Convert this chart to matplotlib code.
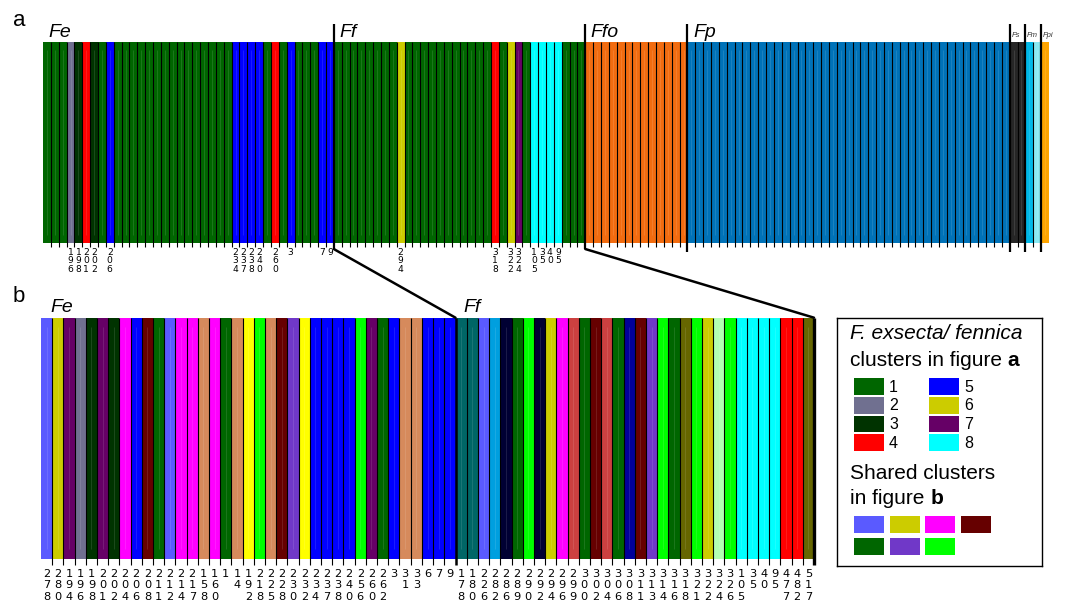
import numpy as np
import matplotlib.pyplot as plt
from matplotlib.patches import ConnectionPatch, Rectangle

# sample ids (F. exsecta = Fe, F. fennica = Ff), left to right
fe_ids = [278, 280, 194, 196, 198, 201, 202, 204, 206, 208, 211, 212, 214, 217,
          158, 160, 1, 14, 192, 218, 225, 228, 230, 232, 234, 237, 238, 240,
          256, 260, 262, 3, 31, 33, 6, 7, 9]
ff_ids = [178, 180, 226, 282, 286, 289, 290, 292, 294, 296, 299, 300, 302, 304,
          306, 308, 311, 313, 314, 316, 318, 321, 322, 324, 326, 105, 35, 40,
          95, 477, 482, 517]

# figure a: cluster of each Fe / Ff sample
fe_clusters = [1, 1, 1, 2, 3, 4, 3, 1, 5,
               1, 1, 1, 1, 1, 1, 1, 1, 1, 1, 1, 1, 1, 1, 1,
               5, 5, 5, 5, 1, 4, 1, 5, 1, 1, 1, 5, 5]
ff_clusters = [1, 1, 1, 1, 1, 1, 1, 1, 6,
               1, 1, 1, 1, 1, 1, 1, 1, 1, 1, 1,
               4, 1, 6, 7, 1, 8, 8, 8, 8, 1, 1, 1]

# figure a: the other species, one colour block each
other_groups = ['Ffo', 'Fp', 'Fs', 'Fm', 'Fpi']
other_sizes = [13, 41, 2, 2, 1]
other_colors = [['#f26c10'], ['#0072b8'], ['#262626'], ['#00b8e8', '#8ae9f2'], ['#ffa500']]

# figure b: clusters of the Fe / Ff samples only
fe_clusters_b = ['S1', 'S2', 'purple', 'grey', 'dkgreen', 'purple', 'dkgreen', 'S3', 'blue',
                 'S4', 'S5', 'S1', 'S3', 'S3', 'tan', 'S3', 'S5', 'tan', 'yellow', 'S7',
                 'tan', 'S4', 'S6', 'yellow', 'blue', 'blue', 'blue', 'blue', 'S7',
                 'purple', 'S5', 'blue', 'tan', 'tan', 'blue', 'blue', 'blue']
ff_clusters_b = ['teal', 'teal', 'S1', 'sky', 'navy', 'S5', 'S7', 'navy', 'S2', 'S3',
                 'rose', 'S5', 'S4', 'rose', 'S5', 'dkblue', 'S4', 'S6', 'S7', 'S5',
                 'olive', 'S7', 'S2', 'pale', 'S7', 'cyan', 'cyan', 'cyan', 'cyan',
                 'red', 'red', 'olive']

cluster_colors = {1: '#006600', 2: '#707090', 3: '#003300', 4: '#ff0000',
                  5: '#0000ff', 6: '#cccc00', 7: '#660066', 8: '#00ffff'}
palette_b = {'S1': '#5a5aff', 'S2': '#cccc00', 'S3': '#ff00ff', 'S4': '#660000',
             'S5': '#006600', 'S6': '#7038c8', 'S7': '#00ff00',
             'blue': '#0000ff', 'purple': '#660066', 'grey': '#707090',
             'dkgreen': '#003300', 'tan': '#d68a5c', 'yellow': '#ffff00',
             'teal': '#006666', 'sky': '#009fdf', 'navy': '#000033', 'rose': '#cc4040',
             'dkblue': '#000099', 'olive': '#666600', 'pale': '#b3ffb3',
             'cyan': '#00ffff', 'red': '#ff0000'}
shared_keys = ['S1', 'S2', 'S3', 'S4', 'S5', 'S6', 'S7']

W, H = 1067, 609
fig = plt.figure(figsize=(W / 100, H / 100), dpi=100)
plt.rcParams['font.family'] = ['Liberation Sans', 'DejaVu Sans']


def px_axes(x0, y0, x1, y1):
    return fig.add_axes([x0 / W, 1 - y1 / H, (x1 - x0) / W, (y1 - y0) / H])


def stack_label(ax, x, text, size, first, step):
    # digits written one under the other below the bar
    for j, ch in enumerate(text):
        ax.annotate(ch, xy=(x, 0), xycoords=('data', 'axes fraction'),
                    xytext=(0, -(first + j * step) * 0.72), textcoords='offset points',
                    ha='center', va='baseline', fontsize=size, family='DejaVu Sans')


def gloss(ax, n):
    ax.vlines(np.arange(n) + 0.5, 0.04, 0.96, colors='white', alpha=0.13, lw=0.6)


# ---------------- panel a ----------------
ids_ab = fe_ids + ff_ids
colors_a = [cluster_colors[c] for c in fe_clusters + ff_clusters]
for size, cols in zip(other_sizes, other_colors):
    for k in range(size):
        colors_a.append(cols[min(k, len(cols) - 1)])
group_names = ['Fe', 'Ff'] + other_groups
group_sizes = [len(fe_ids), len(ff_ids)] + other_sizes
n_a = len(colors_a)
starts = np.concatenate([[0], np.cumsum(group_sizes)[:-1]])

ax_a = px_axes(43, 41.7, 1049, 243)
ax_a.bar(np.arange(n_a), 1, width=1, align='edge', color=colors_a, linewidth=0)
gloss(ax_a, n_a)
ax_a.set_xlim(0, n_a)
ax_a.set_ylim(0, 1)
ax_a.axis('off')
inner = [x for x in range(1, n_a) if x not in starts]
ax_a.vlines(inner, -0.019, 1, colors='black', lw=0.8, clip_on=False)
for name, s in zip(group_names, starts):
    small = name in ('Fs', 'Fm', 'Fpi')
    if s > 0:
        bottom = -0.03 if name in ('Ff', 'Ffo') else -0.045
        ax_a.vlines(s, bottom, 1.088, colors='black', lw=1.6, clip_on=False)
    ax_a.annotate(name, xy=(s, 1), xycoords='data',
                  xytext=((1.8 if small else 5.5) * 0.72, 4.4 * 0.72),
                  textcoords='offset points', va='baseline', ha='left',
                  fontsize=5.5 if small else 14, style='italic',
                  color='#333333' if small else 'black')
for i, c in enumerate(fe_clusters + ff_clusters):
    if c != 1:
        stack_label(ax_a, i + 0.5, str(ids_ab[i]), 6.6, 12, 8.3)

# ---------------- panel b ----------------
colors_b = [palette_b[k] for k in fe_clusters_b + ff_clusters_b]
n_b = len(colors_b)
n_fe = len(fe_ids)
ax_b = px_axes(41, 317.7, 814, 559)
ax_b.bar(np.arange(n_b), 1, width=1, align='edge', color=colors_b, linewidth=0)
gloss(ax_b, n_b)
ax_b.set_xlim(0, n_b)
ax_b.set_ylim(0, 1)
ax_b.axis('off')
ax_b.vlines([x for x in range(1, n_b) if x != n_fe], -0.025, 1,
            colors='black', lw=0.8, clip_on=False)
ax_b.vlines(n_fe, -0.025, 1, colors='black', lw=1.8, clip_on=False)
ax_b.vlines(n_b, -0.025, 1, colors='black', lw=2.4, clip_on=False)
for name, s in [('Fe', 0), ('Ff', n_fe)]:
    ax_b.annotate(name, xy=(s, 1), xycoords='data',
                  xytext=((9.7 if s == 0 else 7.6) * 0.72, 5.4 * 0.72),
                  textcoords='offset points', va='baseline', ha='left',
                  fontsize=14, style='italic')
for i, lab in enumerate(ids_ab):
    stack_label(ax_b, i + 0.5, str(lab), 8.2, 17.6, 11.5)

# zoom lines from a to b
for xa in [n_fe, n_fe + len(ff_ids)]:
    con = ConnectionPatch(xyA=(xa, -0.03), coordsA=ax_a.transData,
                          xyB=(xa, 1), coordsB=ax_b.transData,
                          color='black', lw=1.8)
    fig.add_artist(con)

fig.text(13 / W, 1 - 26 / H, 'a', fontsize=16, va='baseline')
fig.text(13 / W, 1 - 301.7 / H, 'b', fontsize=16, va='baseline')

# ---------------- legend ----------------
x0, y0, x1, y1 = 837.3, 318.3, 1041.7, 566
lg = px_axes(x0, y0, x1, y1)
lg.set_xlim(x0, x1)
lg.set_ylim(y1, y0)
lg.set_xticks([])
lg.set_yticks([])
for sp in lg.spines.values():
    sp.set_linewidth(1.0)
lg.text(850, 339, 'F. exsecta/ fennica', fontsize=15, style='italic', va='baseline')
lg.text(850, 365.7, 'clusters in figure ', fontsize=15, va='baseline')
lg.text(1007.5, 365.7, 'a', fontsize=15, fontweight='bold', va='baseline')
for k in range(8):
    col, row = divmod(k, 4)
    px = 854 + col * 75
    py = 378.3 + row * 18.7
    lg.add_patch(Rectangle((px, py), 30, 16.7, color=cluster_colors[k + 1], lw=0))
    lg.text(px + 35, py + 8.8, str(k + 1), fontsize=11.5, va='center')
lg.text(850, 479, 'Shared clusters', fontsize=15, va='baseline')
lg.text(850, 504, 'in figure ', fontsize=15, va='baseline')
lg.text(930.5, 504, 'b', fontsize=15, fontweight='bold', va='baseline')
shared_x = [854, 890, 925, 961]
for k, key in enumerate(shared_keys):
    row, col = divmod(k, 4)
    lg.add_patch(Rectangle((shared_x[col], 516 + row * 22), 30, 16.7,
                           color=palette_b[key], lw=0))

fig.savefig('out.png', dpi=100)
